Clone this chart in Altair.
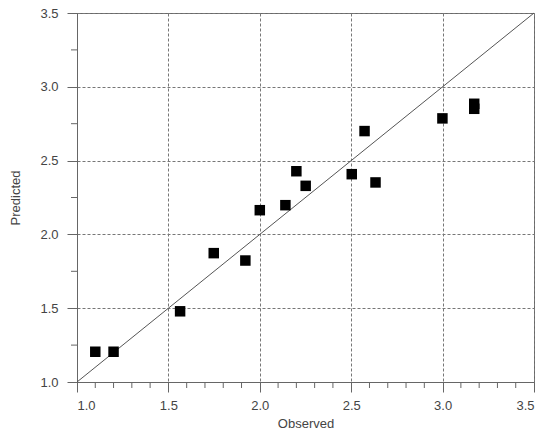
import altair as alt
import pandas as pd

observed = [1.10, 1.20, 1.564, 1.748, 1.921, 2.00, 2.14, 2.20, 2.251, 2.503, 2.573, 2.633, 2.999, 3.173, 3.173]
predicted = [1.205, 1.205, 1.479, 1.873, 1.823, 2.164, 2.198, 2.428, 2.329, 2.408, 2.700, 2.352, 2.786, 2.885, 2.851]

major_ticks = [1.0, 1.5, 2.0, 2.5, 3.0, 3.5]
x_minor = [1.1, 1.2, 1.3, 1.4, 1.6, 1.7, 1.8, 1.9, 2.1, 2.2, 2.3, 2.4,
           2.6, 2.7, 2.8, 2.9, 3.1, 3.2, 3.3, 3.4]
y_minor = [1.25, 1.75, 2.25, 2.75, 3.25]
identity = [1.0, 3.5]

W, H = 457, 369
GRAY = "#666666"

pts = pd.DataFrame({"Observed": observed, "Predicted": predicted})
line_df = pd.DataFrame({"Observed": identity, "Predicted": identity})
xm = pd.DataFrame({"v": x_minor})
ym = pd.DataFrame({"v": y_minor})

xscale = alt.Scale(domain=[1.0, 3.5], nice=False, zero=False)
yscale = alt.Scale(domain=[1.0, 3.5], nice=False, zero=False)

xaxis = alt.Axis(values=major_ticks, format=".1f", title="Observed", grid=True)
yaxis = alt.Axis(values=major_ticks, format=".1f", title="Predicted", grid=True)

line = alt.Chart(line_df).mark_line(color="#555555", strokeWidth=1).encode(
    x=alt.X("Observed:Q", scale=xscale, axis=xaxis),
    y=alt.Y("Predicted:Q", scale=yscale, axis=yaxis),
)

points = alt.Chart(pts).mark_square(size=110, color="black", opacity=1).encode(
    x=alt.X("Observed:Q", scale=xscale),
    y=alt.Y("Predicted:Q", scale=yscale),
)

xminor = alt.Chart(xm).mark_rule(color=GRAY, strokeWidth=1).encode(
    x=alt.X("v:Q", scale=xscale),
    y=alt.value(H),
    y2=alt.value(H + 6),
)

yminor = alt.Chart(ym).mark_rule(color=GRAY, strokeWidth=1).encode(
    y=alt.Y("v:Q", scale=yscale),
    x=alt.value(0),
    x2=alt.value(-6),
)

chart = alt.layer(line, xminor, yminor, points).properties(
    width=W,
    height=H,
    autosize=alt.AutoSizeParams(type="none"),
    padding={"left": 69, "top": 5, "right": 8, "bottom": 50},
).configure_view(
    stroke=GRAY, strokeWidth=1
).configure_axis(
    gridColor="#777777",
    gridDash=[3, 2],
    gridOpacity=1,
    gridWidth=1,
    domainColor=GRAY,
    tickColor=GRAY,
    tickSize=10,
    labelFont="Liberation Sans",
    labelFontSize=13,
    labelColor="#444444",
    titleFont="Liberation Sans",
    titleFontSize=13,
    titleFontWeight="normal",
    titleColor="#444444",
).configure_axisX(
    labelPadding=7,
    titlePadding=5,
).configure_axisY(
    labelPadding=9,
    titlePadding=17,
)

chart.save("out.html", embed_options={"renderer": "svg", "actions": False})
